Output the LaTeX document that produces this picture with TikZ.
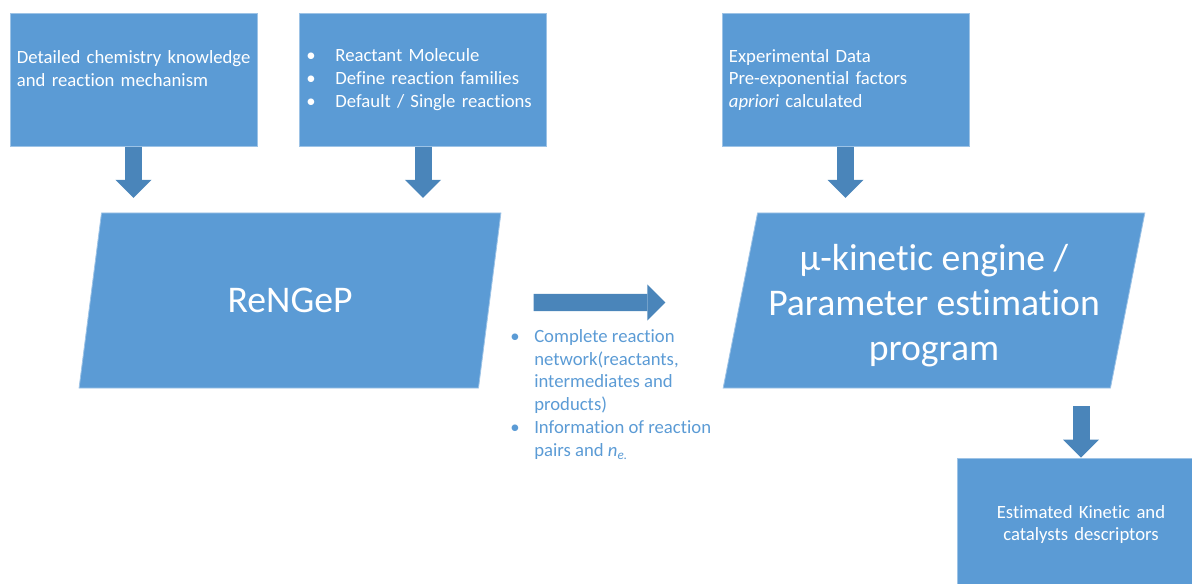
\documentclass[tikz,border=0pt]{standalone}
\usepackage{fontspec}
\setmainfont{Carlito}[Ligatures=NoCommon]
\usepackage{tikz}
\usetikzlibrary{shapes.geometric}
\usetikzlibrary{arrows.meta}
\definecolor{boxblue}{HTML}{5B9BD5}
\definecolor{arrowblue}{HTML}{4A85BA}
\newlength{\px}
\setlength{\px}{0.025cm}
\newcommand{\bul}{\makebox[24\px][l]{\textbullet}}
\newcommand{\ind}{\hspace*{24\px}}

\begin{document}
\begin{tikzpicture}[x=0.025cm, y=-0.025cm,
    every node/.style={font=\fontsize{13.3pt}{16.3pt}\selectfont},
    box/.style={draw=boxblue!60!white, line width=0.6pt, fill=boxblue, text=white,
      minimum width=6.175cm, minimum height=3.325cm, text width=5.825cm, inner xsep=0.175cm, align=left},
    slanted/.style={trapezium, trapezium left angle=76.8, trapezium right angle=103.2, trapezium stretches=true,
      draw=boxblue!60!white, line width=0.6pt, fill=boxblue, text=white, outer sep=0pt,
      minimum width=10.55cm, minimum height=4.375cm, align=center, font=\fontsize{26.8pt}{32pt}\selectfont},
    fat/.style={draw=arrowblue, line width=0.425cm, -{Triangle[width=0.9cm, length=0.45cm, line width=0pt]}}]

  \path[use as bounding box, clip] (0, 0) rectangle (1192, 584);

  \node[box] at (133.5, 80) (know)  {\mbox{Detailed chemistry knowledge}\\and reaction mechanism\\\mbox{}};
  \node[box] at (423, 80)   (react) {\makebox[29\px][l]{\textbullet}Reactant Molecule\\
                                     \makebox[29\px][l]{\textbullet}Define reaction families\\
                                     \makebox[29\px][l]{\textbullet}Default / Single reactions};
  \node[box] at (845.5, 80) (exp)   {Experimental Data\\Pre-exponential factors\\\textit{apriori} calculated};

  \node[slanted] at (290, 300.5) (rengep) {ReNGeP};
  \node[slanted] at (934, 300.5) (engine) {\rule{0pt}{25.5pt}μ-kinetic engine /\\Parameter estimation\\program};

  \node[box, align=center] at (1081, 524.5) (desc) {Estimated Kinetic and\\catalysts descriptors};

  \node[anchor=west, inner sep=0pt, align=left, text=boxblue] at (510, 394.5) (info)
    {\bul Complete reaction\\
     \ind network(reactants,\\
     \ind intermediates and\\
     \ind products)\\
     \bul Information of reaction\\
     \ind pairs and \textit{n}\textsubscript{\textit{e.}}};

  \draw[fat, shorten >=0.375cm] (know.south)  -- (know.south |- rengep.north);
  \draw[fat, shorten >=0.375cm] (react.south) -- (react.south |- rengep.north);
  \draw[fat, shorten >=0.375cm] (exp.south)   -- (exp.south |- engine.north);
  \draw[fat, shorten <=1.1cm, shorten >=1.875cm] ([yshift=-0.05cm]rengep.east) -- ([yshift=-0.05cm]engine.west);
  \draw[fat, shorten <=0.45cm] (desc.north |- engine.south) -- (desc.north);

\end{tikzpicture}
\end{document}
